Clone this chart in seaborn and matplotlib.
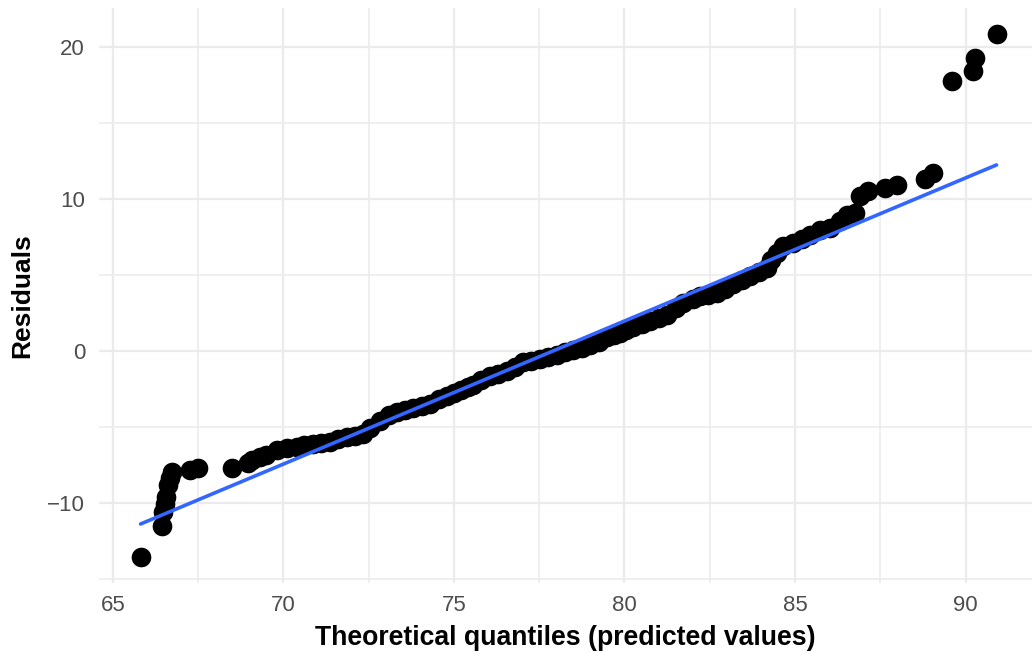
import numpy as np
import pandas as pd
import matplotlib
matplotlib.use("Agg")
import matplotlib.pyplot as plt
import seaborn as sns

# Theoretical quantiles (predicted values) and sorted residuals
quantiles = [
    65.81, 66.43, 66.46, 66.52, 66.57, 66.62, 66.68, 66.72, 67.26, 67.50,
    68.48, 68.97, 69.07, 69.30, 69.50, 69.80, 70.09, 70.39, 70.60, 70.87,
    71.10, 71.36, 71.60, 71.86, 72.10, 72.33, 72.55, 72.83, 73.10, 73.33,
    73.55, 73.80, 74.05, 74.30, 74.55, 74.80, 75.00, 75.20, 75.40, 75.56,
    75.80, 76.06, 76.30, 76.55, 76.80, 77.02, 77.25, 77.52, 77.75, 78.02,
    78.25, 78.49, 78.75, 78.99, 79.25, 79.49, 79.70, 79.87, 80.05, 80.25,
    80.50, 80.75, 81.00, 81.25, 81.50, 81.72, 82.00, 82.21, 82.45, 82.71,
    82.95, 83.18, 83.45, 83.68, 83.95, 84.18, 84.30, 84.47, 84.66, 84.94,
    85.20, 85.44, 85.73, 86.03, 86.32, 86.52, 86.76, 86.90, 87.15, 87.64,
    87.98, 88.81, 89.05, 89.59, 90.21, 90.28, 90.91,
]
residuals = [
    -13.56, -11.54, -10.59, -10.10, -9.60, -8.83, -8.40, -7.96, -7.84, -7.73,
    -7.69, -7.40, -7.19, -7.00, -6.86, -6.53, -6.42, -6.31, -6.20, -6.13,
    -6.05, -5.98, -5.80, -5.67, -5.60, -5.47, -5.10, -4.60, -4.20, -4.00,
    -3.88, -3.77, -3.65, -3.50, -3.20, -3.00, -2.80, -2.60, -2.40, -2.24,
    -1.95, -1.69, -1.50, -1.36, -1.05, -0.77, -0.65, -0.53, -0.40, -0.26,
    -0.10, 0.07, 0.20, 0.35, 0.60, 0.90, 1.05, 1.19, 1.35, 1.58,
    1.75, 1.93, 2.15, 2.37, 2.80, 3.16, 3.40, 3.58, 3.70, 3.80,
    4.10, 4.42, 4.65, 4.90, 5.20, 5.45, 6.00, 6.44, 6.88, 7.10,
    7.35, 7.65, 7.98, 8.10, 8.52, 8.96, 9.10, 10.17, 10.50, 10.72,
    10.94, 11.32, 11.71, 17.75, 18.41, 19.29, 20.88,
]

# Linear reference fit
fit_intercept = -73.40
fit_slope = 0.942

x_ticks = [65, 70, 75, 80, 85, 90]
y_ticks = [-10, 0, 10, 20]

df = pd.DataFrame({"quantile": quantiles, "residual": residuals})
x_span = np.array([df["quantile"].min(), df["quantile"].max()])
fit_df = pd.DataFrame({"quantile": x_span, "residual": fit_intercept + fit_slope * x_span})

sns.set_theme(style="white")
plt.rcParams["font.family"] = ["Liberation Sans", "DejaVu Sans"]

fig = plt.figure(figsize=(10.32, 6.53), dpi=100)
ax = fig.add_axes([0.0959, 0.1075, 0.9041, 0.8809])

grid_col = "#EBEBEB"
ax.set_xlim(64.59, 91.95)
ax.set_ylim(-15.28, 22.6)
ax.set_xticks(x_ticks)
ax.set_yticks(y_ticks)
ax.set_xticks([67.5, 72.5, 77.5, 82.5, 87.5], minor=True)
ax.set_yticks([-15, -5, 5, 15], minor=True)
ax.grid(which="major", color=grid_col, linewidth=1.65)
ax.grid(which="minor", color=grid_col, linewidth=1.15)
ax.set_axisbelow(True)
for s in ax.spines.values():
    s.set_visible(False)
ax.tick_params(which="both", length=0)
ax.tick_params(axis="both", labelsize=16, labelcolor="#4D4D4D")
ax.tick_params(axis="x", pad=9)
ax.tick_params(axis="y", pad=10)

sns.scatterplot(data=df, x="quantile", y="residual", ax=ax, color="black",
                s=200, linewidth=0, zorder=3)
sns.lineplot(data=fit_df, x="quantile", y="residual", ax=ax, color="#3366FF",
             linewidth=2.6, zorder=4)

ax.set_xlabel("Theoretical quantiles (predicted values)", fontsize=19.2,
              fontweight="bold", color="black", labelpad=6)
ax.set_ylabel("Residuals", fontsize=19, fontweight="bold", color="black",
              labelpad=9)

fig.savefig("out.png", dpi=100)
